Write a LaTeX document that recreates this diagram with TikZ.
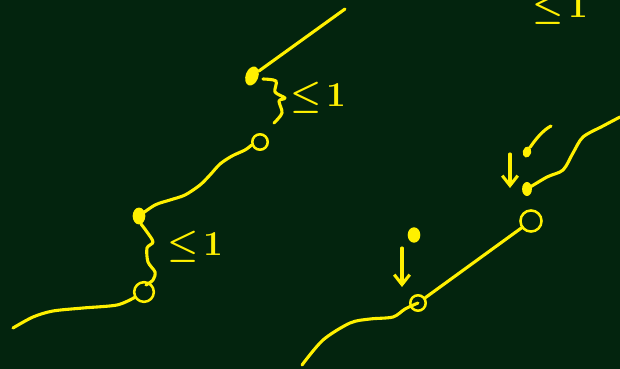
\documentclass[tikz,border=0pt]{standalone}
\usepackage{amsmath, amssymb}
\usepackage{tikz}
\usetikzlibrary{positioning, shapes.geometric, arrows.meta}
\usepackage{xcolor}
\definecolor{board}{RGB}{3,36,14}
\definecolor{chalk}{RGB}{255,240,0}

\begin{document}
\begin{tikzpicture}[x=0.025cm, y=-0.025cm, line cap=round, line join=round,
    every node/.style={inner sep=0pt},
    hole/.style={circle, draw=chalk, line width=1.8pt},
    blob/.style={ellipse, fill=chalk},
    bound/.style={text=chalk, font=\fontsize{26}{26}\selectfont\boldmath}]

    % Board
    \useasboundingbox (0,0) rectangle (620,369);
    \fill[board] (0,0) rectangle (620,369);

    % Dots and holes (left sketch)
    \node[blob, minimum width=9pt, minimum height=14pt, rotate=-20] (D1) at (252,76) {};
    \node[hole, minimum size=11pt] (H1) at (260,142) {};
    \node[blob, minimum width=9pt, minimum height=12pt] (D2) at (139,216) {};
    \node[hole, minimum size=14pt] (H2) at (144,292) {};

    % Dots and holes (right sketch)
    \node[blob, minimum width=9pt, minimum height=11pt] (D3) at (414,235) {};
    \node[hole, minimum size=11pt] (H3) at (418,303) {};
    \node[hole, minimum size=15pt] (H4) at (531,221) {};
    \node[blob, minimum width=6pt, minimum height=8pt, rotate=-15] (D4) at (527,152) {};
    \node[blob, minimum width=7pt, minimum height=10pt] (D5) at (527,189) {};

    % Free ends
    \coordinate (T1) at (345,9);
    \coordinate (E2) at (13,328);
    \coordinate (E3) at (302,365);
    \coordinate (E4) at (620,117);
    \coordinate (E5) at (551,126);
    \coordinate (A1) at (402,248);
    \coordinate (A1e) at (402,287);
    \coordinate (A2) at (510,154);
    \coordinate (A2e) at (510,188);

    \begin{scope}[draw=chalk, line width=2.2pt]
        % Left strokes
        \draw (T1) -- (D1);
        \draw plot[smooth] coordinates {(H1.200) (245,150) (232,156) (220,164) (210,175) (200,185) (185,195) (170,200) (155,205) (D2)};
        \draw plot[smooth] coordinates {(H2.210) (117,305) (83,308) (53,311) (33,317) (E2)};

        % Braces
        \draw plot[smooth] coordinates {(263,79) (276,81) (275,92) (285,98) (279,101) (282,113) (274,123)};
        \draw plot[smooth] coordinates {(141,224) (147,232) (153,242) (147,248) (148,262) (155,272) (153,280) (146,285)};

        % Right strokes
        \draw plot[smooth] coordinates {(E3) (323,340) (350,323) (370,319) (393,317) (405,309) (H3)};
        \draw (H3) -- (H4);
        \draw plot[smooth] coordinates {(D5) (547,177) (563,170) (573,153) (583,137) (603,126) (E4)};
        \draw (D4) .. controls (535,140) and (543,130) .. (E5);

        % Falling arrows
        \draw[-{Straight Barb[length=7pt, width=11pt]}] (A1) -- (A1e);
        \draw[-{Straight Barb[length=7pt, width=11pt]}] (A2) -- (A2e);
    \end{scope}

    % Bounds
    \node[bound] (B1) at (318,98)  {$\leq\!1$};
    \node[bound] (B2) at (195,247) {$\leq\!1$};
    \node[bound] (B3) at (560,9)   {$\leq\!1$};
\end{tikzpicture}
\end{document}
